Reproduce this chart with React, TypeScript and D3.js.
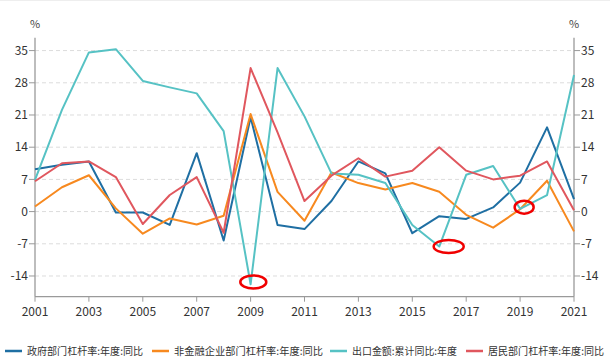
import React from "react";
import * as d3 from "d3";

const years = [2001, 2002, 2003, 2004, 2005, 2006, 2007, 2008, 2009, 2010, 2011, 2012, 2013, 2014, 2015, 2016, 2017, 2018, 2019, 2020, 2021];
const govLeverage = [9.2, 10.2, 10.9, -0.2, -0.2, -2.9, 12.7, -6.3, 20.5, -2.9, -3.8, 2.3, 10.9, 8.3, -4.7, -1.0, -1.6, 0.9, 6.3, 18.3, 2.7];
const nonFinLeverage = [1.1, 5.3, 7.9, 0.7, -4.8, -1.5, -2.8, -0.9, 21.2, 4.3, -2.0, 8.5, 6.2, 4.8, 6.2, 4.3, -0.7, -3.5, 0.5, 6.7, -4.3];
const exportGrowth = [6.9, 22.1, 34.6, 35.3, 28.4, 27.0, 25.7, 17.5, -15.8, 31.2, 20.7, 8.3, 8.0, 6.2, -2.9, -7.6, 8.0, 9.9, 0.6, 3.6, 29.7];
const householdLeverage = [6.6, 10.5, 10.9, 7.5, -2.7, 3.6, 7.5, -4.6, 31.2, 17.2, 2.3, 7.8, 11.6, 7.6, 8.9, 14.0, 8.9, 7.0, 7.8, 10.9, 0.3];

const seriesNames = ["政府部门杠杆率:年度:同比", "非金融企业部门杠杆率:年度:同比", "出口金额:累计同比:年度", "居民部门杠杆率:年度:同比"];
const seriesColors = ["#1f6fa3", "#f7891f", "#56c2c4", "#e0575e"];
const yTicks = [-14, -7, 0, 7, 14, 21, 28, 35];
const xTicks = [2001, 2003, 2005, 2007, 2009, 2011, 2013, 2015, 2017, 2019, 2021];
// annotation ellipses: [year, value, rx, ry]
const annotations = [
  [2009.1, -15.3, 13, 6.5],
  [2016.35, -7.6, 15, 6.5],
  [2019.15, 0.95, 9.5, 6.5],
];

const W = 610;
const H = 360;
const left = 35;
const right = 574;
const top = 37.7;
const bottom = 296.7;
const font = "'Noto Sans CJK SC', 'Noto Sans', sans-serif";

export default function App() {
  const x = d3.scaleLinear().domain([2001, 2021]).range([left, right]);
  const y = d3.scaleLinear().domain([-18.5, 37.8]).range([bottom, top]);
  const allSeries = [govLeverage, nonFinLeverage, exportGrowth, householdLeverage];
  const line = d3
    .line<number>()
    .x((_, i) => x(years[i]))
    .y((d) => y(d));

  const legendX = [5, 152, 330, 466];
  const legendW = [116, 149, 105, 116];

  return (
    <svg
      width={W}
      height={H}
      style={{ position: "absolute", left: 0, top: 0, background: "#fff" }}
      fontFamily={font}
    >
      <line x1={0} x2={W} y1={0.5} y2={0.5} stroke="#eee" />
      {yTicks.map((t) => (
        <line
          key={"g" + t}
          x1={left}
          x2={right}
          y1={y(t)}
          y2={y(t)}
          stroke="#dcdcdc"
          strokeDasharray="4,3"
          strokeWidth={1}
        />
      ))}
      {/* left axis */}
      <line x1={left} x2={left} y1={top} y2={bottom} stroke="#9a9a9a" strokeWidth={1.3} />
      {yTicks.map((t) => (
        <g key={"l" + t}>
          <line x1={left - 6} x2={left} y1={y(t)} y2={y(t)} stroke="#9a9a9a" />
          <text x={left - 7} y={y(t)} dy="0.35em" textAnchor="end" fontSize={12} fill="#333">
            {t}
          </text>
        </g>
      ))}
      <text x={left} y={24} dy="0.35em" textAnchor="middle" fontSize={11} fill="#444">%</text>
      {/* right axis */}
      <line x1={right} x2={right} y1={top} y2={bottom} stroke="#9a9a9a" strokeWidth={1.3} />
      {yTicks.map((t) => (
        <g key={"r" + t}>
          <line x1={right} x2={right + 6} y1={y(t)} y2={y(t)} stroke="#9a9a9a" />
          <text x={right + 7} y={y(t)} dy="0.35em" textAnchor="start" fontSize={12} fill="#333">
            {t}
          </text>
        </g>
      ))}
      <text x={right} y={24} dy="0.35em" textAnchor="middle" fontSize={11} fill="#444">%</text>
      {/* x axis */}
      <line x1={left} x2={right} y1={bottom} y2={bottom} stroke="#9a9a9a" strokeWidth={1.3} />
      {xTicks.map((t) => (
        <g key={"x" + t}>
          <line x1={x(t)} x2={x(t)} y1={bottom} y2={bottom + 5} stroke="#9a9a9a" />
          <text x={x(t)} y={311.5} dy="0.35em" textAnchor="middle" fontSize={12} fill="#333">
            {t}
          </text>
        </g>
      ))}
      {/* series */}
      {allSeries.map((s, i) => (
        <path key={"s" + i} d={line(s) || ""} fill="none" stroke={seriesColors[i]} strokeWidth={2} strokeLinejoin="round" />
      ))}
      {/* annotations */}
      {annotations.map((a, i) => (
        <ellipse key={"a" + i} cx={x(a[0])} cy={y(a[1])} rx={a[2]} ry={a[3]} fill="none" stroke="#f00000" strokeWidth={2.5} />
      ))}
      {/* legend */}
      {seriesNames.map((n, i) => (
        <g key={"lg" + i}>
          <line x1={legendX[i]} x2={legendX[i] + 17} y1={351} y2={351} stroke={seriesColors[i]} strokeWidth={2.5} />
          <text
            x={legendX[i] + 22}
            y={351}
            dy="0.35em"
            fontSize={10.5}
            fill="#333"
            textLength={legendW[i]}
            lengthAdjust="spacingAndGlyphs"
          >
            {n}
          </text>
        </g>
      ))}
    </svg>
  );
}
